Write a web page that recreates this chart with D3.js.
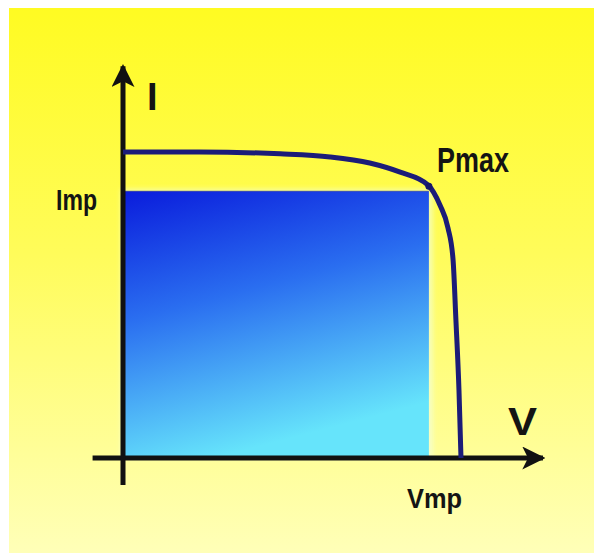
<!DOCTYPE html>
<html>
<head>
<meta charset="utf-8">
<script src="https://cdn.jsdelivr.net/npm/d3@7"></script>
<style>
  body { margin: 0; background: #fff; }
  svg { display: block; }
</style>
</head>
<body>
<svg id="iv-chart"></svg>
<script>
// I-V curve of a solar cell (volts, amps)
var voltage = [0, 4.5, 9.3, 12.25, 14.6, 16.4, 18.05, 18.76, 19.23, 19.53, 19.70, 19.88, 20.0];
var current = [5.0, 5.0, 4.97, 4.92, 4.82, 4.67, 4.46, 4.13, 3.76, 3.24, 2.25, 1.11, 0];

// maximum power point
var vmp = 18.1, imp = 4.36;

var axisLabels = ["I", "V"];
var pointLabels = ["Imp", "Vmp", "Pmax"];

var curve = voltage.map(function(v, i) { return { v: v, i: current[i] }; });

drawChart(curve);

function drawChart(data) {
    var svgWidth = 594, svgHeight = 553;

    var svg = d3.select("#iv-chart")
        .attr("width", svgWidth)
        .attr("height", svgHeight);

    var defs = svg.append("defs");

    var bg = defs.append("linearGradient")
        .attr("id", "bg")
        .attr("x1", 0).attr("y1", 0).attr("x2", 0).attr("y2", 1);
    bg.append("stop").attr("offset", "0").attr("stop-color", "#fffb22");
    bg.append("stop").attr("offset", "0.45").attr("stop-color", "#fffc5a");
    bg.append("stop").attr("offset", "1").attr("stop-color", "#ffffb8");

    var blue = defs.append("linearGradient")
        .attr("id", "blue")
        .attr("x1", 0).attr("y1", 0).attr("x2", 0.3).attr("y2", 1);
    blue.append("stop").attr("offset", "0").attr("stop-color", "#0a1cdc");
    blue.append("stop").attr("offset", "0.45").attr("stop-color", "#2a6ef0");
    blue.append("stop").attr("offset", "1").attr("stop-color", "#66e4fb");

    defs.append("filter").attr("id", "glow")
        .append("feGaussianBlur").attr("stdDeviation", 2.5);

    defs.append("marker")
        .attr("id", "arrow")
        .attr("viewBox", "0 0 10 10")
        .attr("refX", 9).attr("refY", 5)
        .attr("markerWidth", 4.6).attr("markerHeight", 4.6)
        .attr("orient", "auto")
        .append("path")
        .attr("d", "M0,0 L10,5 L0,10 L2.5,5 Z")
        .attr("fill", "#111");

    // background panel
    svg.append("rect")
        .attr("x", 9).attr("y", 8)
        .attr("width", svgWidth - 9).attr("height", svgHeight - 8)
        .attr("fill", "url(#bg)");

    var x = d3.scaleLinear().domain([0, 20]).range([123, 461]);
    var y = d3.scaleLinear().domain([0, 5]).range([458, 152]);

    // power rectangle
    svg.append("rect")
        .attr("x", x(0) - 2).attr("y", y(imp) - 2)
        .attr("width", x(vmp) - x(0) + 6).attr("height", y(0) - y(imp) + 2)
        .attr("fill", "#f0ffe8")
        .attr("opacity", 0.6)
        .attr("filter", "url(#glow)");

    svg.append("rect")
        .attr("x", x(0)).attr("y", y(imp))
        .attr("width", x(vmp) - x(0)).attr("height", y(0) - y(imp))
        .attr("fill", "url(#blue)");

    svg.append("line")
        .attr("x1", x(0)).attr("x2", x(vmp))
        .attr("y1", y(imp)).attr("y2", y(imp))
        .attr("stroke", "#3a3a80").attr("stroke-width", 1).attr("opacity", 0.5);

    // axes
    svg.append("line")
        .attr("x1", x(-1.8)).attr("y1", y(0))
        .attr("x2", x(24.85)).attr("y2", y(0))
        .attr("stroke", "#111").attr("stroke-width", 5)
        .attr("marker-end", "url(#arrow)");

    svg.append("line")
        .attr("x1", x(0)).attr("y1", y(-0.44))
        .attr("x2", x(0)).attr("y2", y(6.4))
        .attr("stroke", "#111").attr("stroke-width", 5)
        .attr("marker-end", "url(#arrow)");

    // I-V curve
    var line = d3.line()
        .x(function(d) { return x(d.v); })
        .y(function(d) { return y(d.i); })
        .curve(d3.curveMonotoneX);

    svg.append("path")
        .datum(data)
        .attr("fill", "none")
        .attr("stroke", "#1c1c78")
        .attr("stroke-width", 5)
        .attr("stroke-linejoin", "round")
        .attr("d", line);

    svg.append("circle")
        .attr("cx", x(vmp)).attr("cy", y(4.44))
        .attr("r", 3.5)
        .attr("fill", "#16166a");

    // labels
    var labels = [
        { text: axisLabels[0], x: 147, y: 110, size: 38, len: null },
        { text: axisLabels[1], x: 508, y: 435, size: 38, len: 29 },
        { text: pointLabels[0], x: 56, y: 210, size: 30, len: 41 },
        { text: pointLabels[1], x: 407, y: 508, size: 28, len: 55 },
        { text: pointLabels[2], x: 437, y: 172, size: 35, len: 72 }
    ];

    labels.forEach(function(l) {
        var t = svg.append("text")
            .attr("x", l.x).attr("y", l.y)
            .attr("font-family", "Liberation Sans, Arial, sans-serif")
            .attr("font-weight", "bold")
            .attr("font-size", l.size + "px")
            .attr("fill", "#141414")
            .text(l.text);
        if (l.len) {
            t.attr("textLength", l.len).attr("lengthAdjust", "spacingAndGlyphs");
        }
    });
}
</script>
</body>
</html>
